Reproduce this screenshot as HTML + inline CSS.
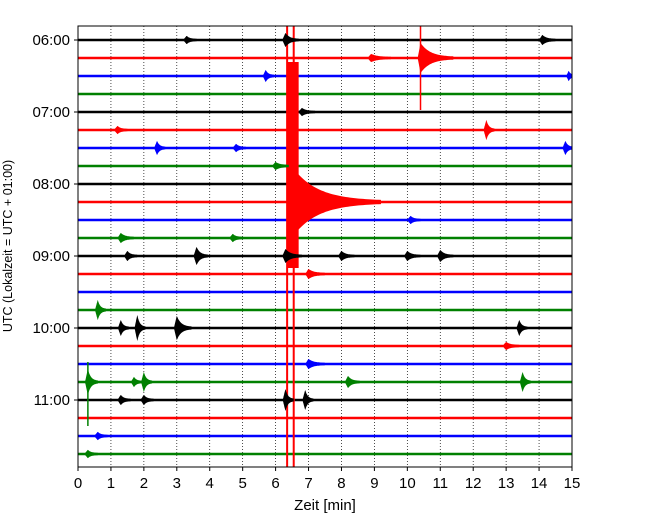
<!DOCTYPE html>
<html><head><meta charset="utf-8"><style>
body{margin:0;background:#fff;}
svg{display:block;font-family:"Liberation Sans","DejaVu Sans",sans-serif;}
</style></head><body>
<svg id="chart" width="650" height="520">
<defs><clipPath id="pc"><rect x="78" y="26" width="494" height="441"/></clipPath></defs>
<rect x="78" y="26" width="494" height="441" fill="#fff"/>
<g id="grid"></g>
<g id="traces" clip-path="url(#pc)"></g>
<rect x="78" y="26" width="494" height="441" fill="none" stroke="#000" stroke-width="1"/>
<g id="axes"></g>
<text x="325" y="510" font-size="15" text-anchor="middle">Zeit  [min]</text>
<text transform="translate(12,246) rotate(-90)" font-size="12.5" text-anchor="middle">UTC (Lokalzeit = UTC + 01:00)</text>
</svg>
<script>
const xTicks=[0,1,2,3,4,5,6,7,8,9,10,11,12,13,14,15];
const yLabels=["06:00","07:00","08:00","09:00","10:00","11:00"];
const traceCount=24;
const colors=["#000","#f00","#00f","#008000"];
// events: trace index, minute, amplitude (trace units px), decay duration (min)
const evTrace=[0,0,0,1,1,2,2,4,5,5,6,6,6,7,9,10,11,11,12,12,12,12,12,12,13,15,16,16,16,16,17,18,19,19,19,19,19,20,20,20,20,22,23];
const evTime=[6.3,14.1,3.3,10.4,8.9,5.7,14.9,6.8,12.4,1.2,2.4,14.8,4.8,6.0,6.6,10.1,1.3,4.7,3.6,1.5,6.3,11.0,10.0,8.0,7.0,0.6,1.3,1.8,3.0,13.4,13.0,7.0,0.3,2.0,13.5,8.2,1.7,6.3,6.9,1.3,2.0,0.6,0.3];
const evAmp=[6,4,3,14,3,5,4,3,9,3,6,6,3,3,30,3,4,3,8,4,6,5,4,4,4,9,7,12,11,7,3,4,12,9,9,5,4,10,9,4,4,3,3];
const evDur=[0.4,0.4,0.3,1.0,0.6,0.25,0.2,0.4,0.25,0.3,0.25,0.25,0.3,0.4,2.6,0.3,0.4,0.3,0.35,0.3,0.5,0.4,0.4,0.4,0.5,0.25,0.25,0.25,0.45,0.25,0.4,0.5,0.3,0.25,0.25,0.35,0.25,0.25,0.25,0.3,0.3,0.3,0.3];
// tall spikes: trace, minute, up length, down length (px)
const spTrace=[1,19];
const spTime=[10.4,0.3];
const spUp=[34,20];
const spDown=[52,44];
// clipped quake block: trace, start/end minute, top/bottom offset (px from trace)
const blkTrace=[9];
const blkStart=[6.35];
const blkEnd=[6.7];
const blkTop=[-140];
const blkBottom=[66];
const blkLines=[6.35,6.55];
const X0=78,X1=572,Y0=40,DY=18;
const xs=m=>X0+(X1-X0)*m/15;
const ys=i=>Y0+i*DY;
const NS="http://www.w3.org/2000/svg";
const grid=document.getElementById('grid'),tr=document.getElementById('traces'),ax=document.getElementById('axes');
xTicks.forEach(t=>{
 const g=document.createElementNS(NS,'line');
 g.setAttribute('x1',xs(t));g.setAttribute('x2',xs(t));g.setAttribute('y1',26);g.setAttribute('y2',467);
 g.setAttribute('stroke','#000');g.setAttribute('stroke-width','0.7');g.setAttribute('stroke-dasharray','1,2');
 
 
 grid.appendChild(g);
 const k=document.createElementNS(NS,'line');
 k.setAttribute('x1',xs(t));k.setAttribute('x2',xs(t));k.setAttribute('y1',467);k.setAttribute('y2',471);k.setAttribute('stroke','#000');
 
 
 ax.appendChild(k);
 const l=document.createElementNS(NS,'text');
 l.setAttribute('x',xs(t));l.setAttribute('y',488);l.setAttribute('font-size','15');l.setAttribute('text-anchor','middle');l.textContent=t;
 
 
 ax.appendChild(l);
});
yLabels.forEach((s,j)=>{
 const y=ys(j*4);
 const k=document.createElementNS(NS,'line');
 k.setAttribute('x1',74);k.setAttribute('x2',78);k.setAttribute('y1',y);k.setAttribute('y2',y);k.setAttribute('stroke','#000');
 
 
 ax.appendChild(k);
 const l=document.createElementNS(NS,'text');
 l.setAttribute('x',70);l.setAttribute('y',y+5);l.setAttribute('font-size','15');l.setAttribute('text-anchor','end');l.textContent=s;
 
 
 ax.appendChild(l);
});
for(let i=0;i<traceCount;i++){
 const b=document.createElementNS(NS,'line');
 b.setAttribute('x1',X0);b.setAttribute('x2',X1);b.setAttribute('y1',ys(i));b.setAttribute('y2',ys(i));
 b.setAttribute('stroke',colors[i%4]);b.setAttribute('stroke-width','2.4');
 
 
 tr.appendChild(b);
}
blkTrace.forEach((ti,k)=>{
 const c=colors[ti%4],y=ys(ti);
 const r=document.createElementNS(NS,'rect');
 r.setAttribute('x',xs(blkStart[k]));r.setAttribute('width',xs(blkEnd[k])-xs(blkStart[k]));
 r.setAttribute('y',y+blkTop[k]);r.setAttribute('height',blkBottom[k]-blkTop[k]);r.setAttribute('fill',c);
 
 
 tr.appendChild(r);
 blkLines.forEach(m=>{
  const v=document.createElementNS(NS,'line');
  v.setAttribute('x1',xs(m));v.setAttribute('x2',xs(m));v.setAttribute('y1',26);v.setAttribute('y2',467);
  v.setAttribute('stroke',c);v.setAttribute('stroke-width','2');
  
  
  tr.appendChild(v);
 });
});
evTrace.forEach((ti,k)=>{
 const t=evTime[k],a=evAmp[k],d=evDur[k],y=ys(ti),c=colors[ti%4];
 const top=[],bot=[];
 const rise=Math.min(0.08,d*0.3);
 const n=40;
 for(let s=0;s<=n;s++){
  const dt=-rise+(d+rise)*s/n;
  const env=(dt<0?a*(1+dt/rise):a*Math.exp(-3.5*dt/d))+1.2;
  top.push([xs(t+dt),y-env]);bot.push([xs(t+dt),y+env]);
 }
 const pts=top.concat(bot.reverse()).map(p=>p[0].toFixed(1)+','+p[1].toFixed(1)).join(' ');
 const p=document.createElementNS(NS,'polygon');
 p.setAttribute('points',pts);p.setAttribute('fill',c);
 
 
 tr.appendChild(p);
});
spTrace.forEach((ti,k)=>{
 const v=document.createElementNS(NS,'line');
 const y=ys(ti);
 v.setAttribute('x1',xs(spTime[k]));v.setAttribute('x2',xs(spTime[k]));
 v.setAttribute('y1',y-spUp[k]);v.setAttribute('y2',y+spDown[k]);
 v.setAttribute('stroke',colors[ti%4]);v.setAttribute('stroke-width','1.5');
 
 
 tr.appendChild(v);
});
</script>
</body></html>
